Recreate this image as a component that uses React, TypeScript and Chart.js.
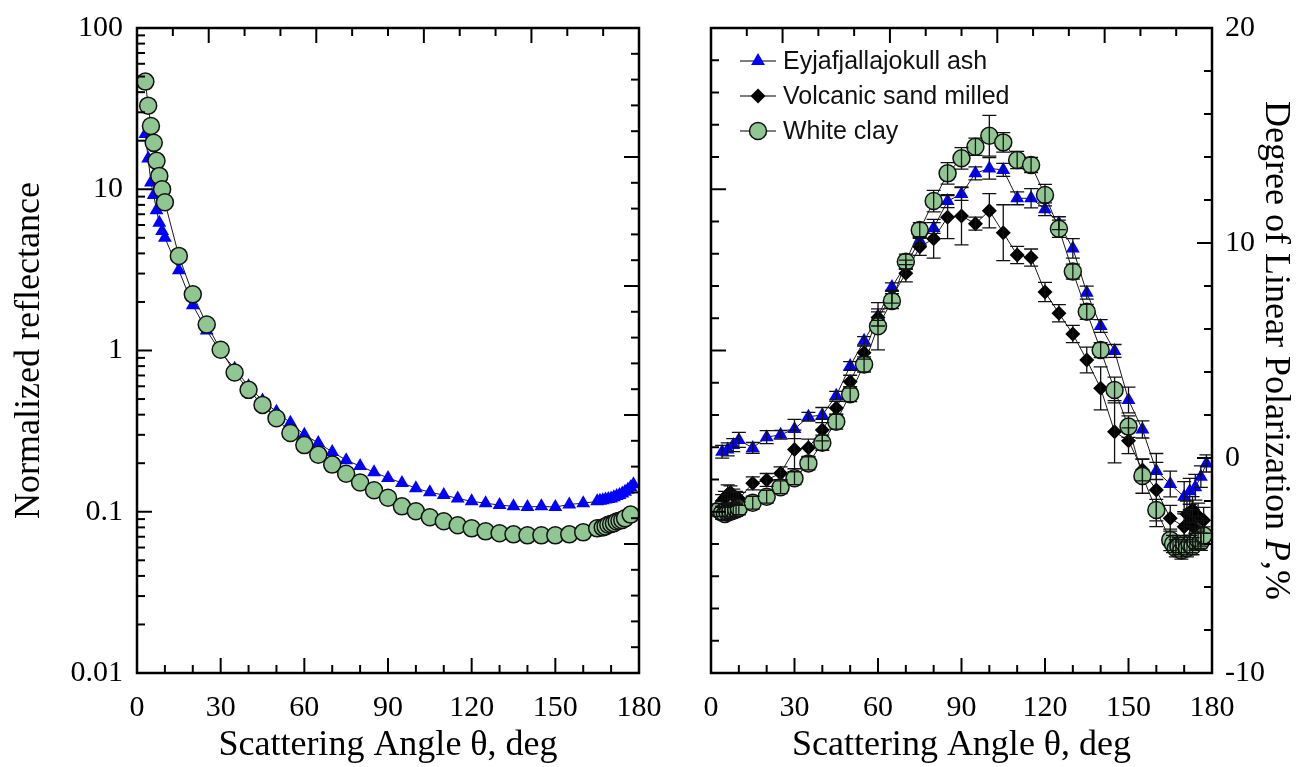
import React, { useEffect, useRef } from "react";
import { Chart, registerables } from "chart.js";

Chart.register(...registerables);

const SERIF = '"Liberation Serif", "Times New Roman", serif';
const SANS = '"Liberation Sans", Arial, sans-serif';

// ---------- text ----------
const SERIES_NAMES = ["Eyjafjallajokull ash", "Volcanic sand milled", "White clay"];
const X_TITLE = "Scattering Angle \u03b8, deg";
const LEFT_Y_TITLE = "Normalized reflectance";
const RIGHT_Y_TITLE_PARTS = ["Degree of Linear Polarization ", "P", ",%"];

// ---------- left panel: normalized reflectance ----------
const ASH_REFL_ANGLES = [3, 4, 5, 6, 7, 8, 9, 10, 15, 20, 25, 30, 35, 40, 45, 50, 55, 60, 65, 70, 75, 80, 85, 90, 95, 100, 105, 110, 115, 120, 125, 130, 135, 140, 145, 150, 155, 160, 165, 166, 167, 168, 169, 170, 171, 172, 173, 174, 175, 176, 177, 178];
const ASH_REFL = [22, 15.5, 11, 9.2, 7.4, 6.2, 5.5, 5.0, 3.15, 1.91, 1.33, 0.98, 0.77, 0.6, 0.49, 0.417, 0.356, 0.3, 0.267, 0.235, 0.209, 0.192, 0.176, 0.162, 0.151, 0.14, 0.132, 0.127, 0.121, 0.116, 0.113, 0.11, 0.108, 0.107, 0.108, 0.107, 0.111, 0.113, 0.116, 0.117, 0.118, 0.119, 0.12, 0.121, 0.123, 0.125, 0.127, 0.13, 0.133, 0.137, 0.142, 0.148];

const CLAY_REFL_ANGLES = [3, 4, 5, 6, 7, 8, 9, 10, 15, 20, 25, 30, 35, 40, 45, 50, 55, 60, 65, 70, 75, 80, 85, 90, 95, 100, 105, 110, 115, 120, 125, 130, 135, 140, 145, 150, 155, 160, 165, 167, 168, 169, 170, 171, 172, 173, 174, 175, 177];
const CLAY_REFL = [46.5, 33, 24.7, 19.4, 15.0, 12.1, 10.0, 8.3, 3.86, 2.23, 1.45, 1.01, 0.73, 0.57, 0.46, 0.38, 0.308, 0.259, 0.226, 0.196, 0.172, 0.152, 0.136, 0.122, 0.108, 0.1007, 0.0924, 0.0873, 0.0824, 0.0789, 0.0756, 0.0735, 0.0724, 0.0714, 0.0714, 0.0714, 0.0724, 0.0745, 0.0789, 0.08, 0.081, 0.083, 0.084, 0.085, 0.087, 0.088, 0.089, 0.091, 0.096];

// ---------- right panel: degree of linear polarization ----------
const ASH_POL_ANGLES = [4, 6, 8, 10, 15, 20, 25, 30, 35, 40, 45, 50, 55, 60, 65, 70, 75, 80, 85, 90, 95, 100, 105, 110, 115, 120, 125, 130, 135, 140, 145, 150, 155, 160, 165, 170, 172, 174, 176, 178];
const ASH_POL = [0.29, 0.4, 0.6, 0.84, 0.47, 0.97, 1.08, 1.35, 1.92, 2.0, 2.9, 4.28, 5.45, 6.6, 7.95, 9.0, 10.1, 10.7, 11.95, 12.28, 13.24, 13.47, 13.4, 12.08, 12.08, 11.57, 10.92, 9.75, 7.69, 6.14, 4.98, 2.7, 1.33, -0.6, -1.21, -1.8, -1.55, -1.36, -0.87, -0.25];
const ASH_POL_ERR = [0.3, 0.3, 0.3, 0.35, 0.25, 0.3, 0.2, 0.45, 0.2, 0.35, 0.2, 0.2, 0.2, 0.2, 0.2, 0.2, 0.2, 0.25, 0.3, 0.3, 0.3, 0.5, 0.3, 0.3, 0.45, 0.3, 0.3, 0.45, 0.3, 0.3, 0.3, 0.6, 0.4, 0.4, 0.6, 0.7, 0.6, 0.6, 0.5, 0.4];

const SAND_POL_ANGLES = [4, 5, 6, 7, 8, 9, 10, 15, 20, 25, 30, 35, 40, 45, 50, 55, 60, 65, 70, 75, 80, 85, 90, 95, 100, 105, 110, 115, 120, 125, 130, 135, 140, 145, 150, 155, 160, 165, 170, 171, 172, 173, 174, 175, 176, 177];
const SAND_POL = [-2.0, -1.85, -1.7, -1.6, -1.75, -1.85, -1.9, -1.18, -1.02, -0.71, 0.4, 0.48, 1.3, 2.33, 3.55, 4.9, 6.54, 7.5, 8.59, 9.82, 10.2, 11.2, 11.26, 10.9, 11.5, 10.48, 9.44, 9.32, 7.72, 6.73, 5.77, 4.56, 3.24, 1.22, 0.8, -0.56, -1.49, -2.8, -3.2, -2.6, -3.0, -2.4, -3.3, -2.7, -3.5, -2.9];
const SAND_POL_ERR = [0.3, 0.3, 0.45, 0.3, 0.3, 0.3, 0.3, 0.3, 0.3, 0.3, 0.9, 0.4, 0.5, 0.3, 0.3, 0.3, 0.4, 0.3, 0.4, 0.4, 0.9, 1.0, 1.35, 0.3, 0.8, 1.3, 0.4, 0.4, 0.45, 0.4, 0.4, 0.6, 1.0, 1.45, 0.6, 0.5, 1.7, 0.6, 0.6, 0.6, 0.6, 0.6, 0.6, 0.6, 0.6, 0.6];

const CLAY_POL_ANGLES = [3, 4, 5, 6, 7, 8, 9, 10, 15, 20, 25, 30, 35, 40, 45, 50, 55, 60, 65, 70, 75, 80, 85, 90, 95, 100, 105, 110, 115, 120, 125, 130, 135, 140, 145, 150, 155, 160, 165, 166, 167, 168, 169, 170, 171, 172, 173, 174, 175, 176, 177];
const CLAY_POL = [-2.42, -2.55, -2.6, -2.55, -2.5, -2.45, -2.4, -2.34, -2.08, -1.8, -1.36, -0.94, -0.25, 0.71, 1.69, 2.97, 4.35, 6.13, 7.3, 9.13, 10.6, 11.95, 13.24, 13.94, 14.48, 14.99, 14.68, 13.86, 13.63, 12.23, 10.66, 8.67, 6.8, 5.02, 3.16, 1.46, -0.84, -2.42, -3.81, -4.0, -4.2, -4.1, -4.3, -4.0, -4.2, -4.0, -4.1, -3.9, -3.8, -3.9, -3.6];
const CLAY_POL_ERR = [0.3, 0.3, 0.3, 0.3, 0.3, 0.3, 0.3, 0.3, 0.3, 0.3, 0.3, 0.3, 0.3, 0.35, 0.35, 0.35, 0.35, 1.1, 0.35, 0.35, 0.35, 0.5, 0.5, 0.5, 0.4, 0.95, 0.45, 0.4, 0.35, 0.5, 0.4, 0.35, 0.35, 0.35, 0.6, 0.5, 0.8, 0.5, 0.5, 0.4, 0.4, 0.4, 0.4, 0.4, 0.4, 0.4, 0.4, 0.4, 0.4, 0.4, 0.4];

// ---------- axis ticks ----------
const ANGLE_LABELS = [0, 30, 60, 90, 120, 150, 180];
const ANGLE_MINOR = [0, 10, 20, 30, 40, 50, 60, 70, 80, 90, 100, 110, 120, 130, 140, 150, 160, 170, 180];
const REFL_DECADES = [0.01, 0.1, 1, 10, 100];
const POL_LABELS = [-10, 0, 10, 20];
const POL_MINOR = [-10, -8, -6, -4, -2, 0, 2, 4, 6, 8, 10, 12, 14, 16, 18, 20];
const TOP_MINOR = [0, 1, 2, 3, 4, 5, 6, 7, 8, 9, 10, 11, 12, 13, 14];
const TOP_MAJOR = [2, 5, 8, 11, 14];
const RIGHT_AUX_MINOR = [0, 1, 2, 3, 4, 5, 6, 7, 8, 9, 10, 11, 12, 13, 14, 15, 16, 17, 18, 19, 20, 21, 22, 23, 24, 25];
const RIGHT_AUX_MAJOR = [5, 10, 15, 20];
const LEFT_AUX_MINOR = [0, 1, 2, 3, 4, 5, 6, 7, 8, 9, 10, 11, 12, 13, 14, 15, 16, 17, 18, 19, 20];
const LEFT_AUX_MAJOR = [5, 10, 15];
const LOG_MINOR = REFL_DECADES.slice(0, 4).flatMap((d) => [1, 2, 3, 4, 5, 6, 7, 8, 9].map((m) => d * m)).concat([100]);

// ---------- styles ----------
const ASH_COLOR = "#0000ff";
const SAND_COLOR = "#000000";
const CLAY_FILL = "#8fc692";
const LINE_COLOR = "#1a1a1a";

const pairs = (xs: number[], ys: number[]) => xs.map((x, i) => ({ x, y: ys[i] }));

function clayDs(xs: number[], ys: number[], err?: number[]) {
  return {
    label: SERIES_NAMES[2], data: pairs(xs, ys), errors: err, showLine: true,
    borderColor: LINE_COLOR, borderWidth: 1, pointStyle: "circle", pointRadius: 8.5,
    pointBackgroundColor: CLAY_FILL, pointBorderColor: "#111", pointBorderWidth: 1.5,
  };
}
function sandDs(xs: number[], ys: number[], err?: number[]) {
  return {
    label: SERIES_NAMES[1], data: pairs(xs, ys), errors: err, showLine: true,
    borderColor: LINE_COLOR, borderWidth: 1, pointStyle: "rectRot", pointRadius: 7.5,
    pointBackgroundColor: SAND_COLOR, pointBorderColor: SAND_COLOR, pointBorderWidth: 0,
  };
}
function ashDs(xs: number[], ys: number[], err?: number[]) {
  return {
    label: SERIES_NAMES[0], data: pairs(xs, ys), errors: err, showLine: true,
    borderColor: LINE_COLOR, borderWidth: 1, pointStyle: "triangle", pointRadius: 8,
    pointBackgroundColor: ASH_COLOR, pointBorderColor: ASH_COLOR, pointBorderWidth: 0,
  };
}

type TickSpec = { scale: string; side: "left" | "right" | "top" | "bottom"; values: number[]; major: number[] };

const LONG_TICK = 15;
const SHORT_TICK = 8;

function framePlugin(specs: TickSpec[]) {
  return {
    id: "frameTicks",
    afterDraw(chart: any) {
      const { ctx, chartArea: a } = chart;
      ctx.save();
      ctx.strokeStyle = "#000";
      ctx.lineWidth = 2;
      for (const s of specs) {
        const sc = chart.scales[s.scale];
        for (const v of s.values) {
          const len = s.major.some((m) => Math.abs(m - v) < 1e-9) ? LONG_TICK : SHORT_TICK;
          const p = sc.getPixelForValue(v);
          ctx.beginPath();
          if (s.side === "left" || s.side === "right") {
            if (p < a.top + 1 || p > a.bottom - 1) continue;
            const x0 = s.side === "left" ? a.left : a.right;
            ctx.moveTo(x0, p);
            ctx.lineTo(s.side === "left" ? x0 + len : x0 - len, p);
          } else {
            if (p < a.left + 1 || p > a.right - 1) continue;
            const y0 = s.side === "top" ? a.top : a.bottom;
            ctx.moveTo(p, y0);
            ctx.lineTo(p, s.side === "top" ? y0 + len : y0 - len);
          }
          ctx.stroke();
        }
      }
      ctx.lineWidth = 2.5;
      ctx.strokeRect(a.left, a.top, a.right - a.left, a.bottom - a.top);
      ctx.restore();
    },
  };
}

const CAP = 7;
const errorBarPlugin = {
  id: "errorBars",
  afterDatasetsDraw(chart: any) {
    const { ctx, chartArea: a } = chart;
    ctx.save();
    ctx.beginPath();
    ctx.rect(a.left, a.top, a.right - a.left, a.bottom - a.top);
    ctx.clip();
    ctx.strokeStyle = "#111";
    ctx.lineWidth = 1.3;
    chart.data.datasets.forEach((ds: any, i: number) => {
      if (!ds.errors) return;
      const meta = chart.getDatasetMeta(i);
      const ys = chart.scales[meta.yAxisID];
      meta.data.forEach((pt: any, j: number) => {
        const v = ds.data[j].y;
        const e = ds.errors[j];
        const yt = ys.getPixelForValue(v + e);
        const yb = ys.getPixelForValue(v - e);
        const x = pt.x;
        ctx.beginPath();
        ctx.moveTo(x, yt); ctx.lineTo(x, yb);
        ctx.moveTo(x - CAP, yt); ctx.lineTo(x + CAP, yt);
        ctx.moveTo(x - CAP, yb); ctx.lineTo(x + CAP, yb);
        ctx.stroke();
      });
    });
    ctx.restore();
  },
};

function drawMarker(ctx: CanvasRenderingContext2D, kind: string, x: number, y: number) {
  ctx.beginPath();
  if (kind === "triangle") {
    const r = 8;
    ctx.moveTo(x, y - r);
    ctx.lineTo(x + r * Math.sin(Math.PI / 3), y + r * 0.5);
    ctx.lineTo(x - r * Math.sin(Math.PI / 3), y + r * 0.5);
    ctx.closePath();
    ctx.fillStyle = ASH_COLOR;
    ctx.fill();
  } else if (kind === "diamond") {
    const r = 7.5;
    ctx.moveTo(x, y - r); ctx.lineTo(x + r, y); ctx.lineTo(x, y + r); ctx.lineTo(x - r, y);
    ctx.closePath();
    ctx.fillStyle = SAND_COLOR;
    ctx.fill();
  } else {
    ctx.arc(x, y, 8.5, 0, Math.PI * 2);
    ctx.fillStyle = CLAY_FILL;
    ctx.fill();
    ctx.lineWidth = 1.5;
    ctx.strokeStyle = "#111";
    ctx.stroke();
  }
}

const legendPlugin = {
  id: "innerLegend",
  afterDraw(chart: any) {
    const { ctx, chartArea: a } = chart;
    const kinds = ["triangle", "diamond", "circle"];
    ctx.save();
    ctx.font = `25px ${SANS}`;
    ctx.textBaseline = "middle";
    ctx.textAlign = "left";
    SERIES_NAMES.forEach((name, i) => {
      const y = a.top + 33 + i * 35;
      const x0 = a.left + 29;
      ctx.strokeStyle = "#000";
      ctx.lineWidth = 1.2;
      ctx.beginPath();
      ctx.moveTo(x0, y); ctx.lineTo(x0 + 36, y);
      ctx.stroke();
      drawMarker(ctx, kinds[i], x0 + 18, y);
      ctx.fillStyle = "#111";
      ctx.fillText(name, x0 + 43, y + 1);
    });
    ctx.restore();
  },
};

const rightTitlePlugin = {
  id: "rightTitle",
  afterDraw(chart: any) {
    const { ctx, chartArea: a } = chart;
    const normal = `36px ${SERIF}`;
    const italic = `italic 36px ${SERIF}`;
    const fonts = [normal, italic, normal];
    ctx.save();
    ctx.translate(chart.width - 25, (a.top + a.bottom) / 2);
    ctx.rotate(Math.PI / 2);
    ctx.textBaseline = "middle";
    ctx.textAlign = "left";
    ctx.fillStyle = "#000";
    const widths = RIGHT_Y_TITLE_PARTS.map((t, i) => { ctx.font = fonts[i]; return ctx.measureText(t).width; });
    let x = -widths.reduce((s, w) => s + w, 0) / 2;
    RIGHT_Y_TITLE_PARTS.forEach((t, i) => { ctx.font = fonts[i]; ctx.fillText(t, x, 0); x += widths[i]; });
    ctx.restore();
  },
};

const tickFont = { family: SERIF, size: 30 };
const titleFont = { family: SERIF, size: 36, lineHeight: 1 };

function angleAxis() {
  return {
    type: "linear", position: "bottom", min: 0, max: 180,
    afterBuildTicks: (s: any) => { s.ticks = ANGLE_LABELS.map((value) => ({ value })); },
    afterFit: (s: any) => { s.height = 94; s.paddingLeft = 0; s.paddingRight = 0; },
    ticks: { font: tickFont, color: "#000", padding: 17, maxRotation: 0, autoSkip: false },
    grid: { display: false, drawTicks: false },
    border: { display: false },
    title: { display: true, text: X_TITLE, font: titleFont, color: "#000", padding: { top: 0, bottom: 3 } },
  };
}

function leftConfig(): any {
  return {
    type: "scatter",
    data: {
      datasets: [clayDs(CLAY_REFL_ANGLES, CLAY_REFL), ashDs(ASH_REFL_ANGLES, ASH_REFL)],
    },
    options: {
      animation: false, responsive: false, devicePixelRatio: 1, events: [],
      layout: { padding: { left: 0, top: 28, right: 36, bottom: 0 } },
      plugins: { legend: { display: false }, tooltip: { enabled: false } },
      scales: {
        x: angleAxis(),
        y: {
          type: "logarithmic", position: "left", min: 0.01, max: 100,
          afterBuildTicks: (s: any) => { s.ticks = REFL_DECADES.map((value) => ({ value })); },
          afterFit: (s: any) => { s.width = 137; s.paddingTop = 0; s.paddingBottom = 0; },
          ticks: { font: tickFont, color: "#000", padding: 14, callback: (v: any) => String(v) },
          grid: { display: false, drawTicks: false },
          border: { display: false },
          title: { display: true, text: LEFT_Y_TITLE, font: titleFont, color: "#000", padding: { top: 12, bottom: 0 } },
        },
        xTop: { type: "linear", position: "top", min: 0, max: 14, display: false },
        yAux: { type: "linear", position: "right", min: 0, max: 25, display: false },
      },
    },
    plugins: [
      framePlugin([
        { scale: "x", side: "bottom", values: ANGLE_MINOR, major: ANGLE_LABELS },
        { scale: "xTop", side: "top", values: TOP_MINOR, major: TOP_MAJOR },
        { scale: "y", side: "left", values: LOG_MINOR, major: REFL_DECADES },
        { scale: "yAux", side: "right", values: RIGHT_AUX_MINOR, major: RIGHT_AUX_MAJOR },
      ]),
    ],
  };
}

function rightConfig(): any {
  return {
    type: "scatter",
    data: {
      datasets: [
        clayDs(CLAY_POL_ANGLES, CLAY_POL, CLAY_POL_ERR),
        sandDs(SAND_POL_ANGLES, SAND_POL, SAND_POL_ERR),
        ashDs(ASH_POL_ANGLES, ASH_POL, ASH_POL_ERR),
      ],
    },
    options: {
      animation: false, responsive: false, devicePixelRatio: 1, events: [],
      layout: { padding: { left: 36, top: 28, right: 0, bottom: 0 } },
      plugins: { legend: { display: false }, tooltip: { enabled: false } },
      scales: {
        x: angleAxis(),
        y: {
          type: "linear", position: "right", min: -10, max: 20,
          afterBuildTicks: (s: any) => { s.ticks = POL_LABELS.map((value) => ({ value })); },
          afterFit: (s: any) => { s.width = 88; s.paddingTop = 0; s.paddingBottom = 0; },
          ticks: { font: tickFont, color: "#000", padding: 13 },
          grid: { display: false, drawTicks: false },
          border: { display: false },
          title: { display: false },
        },
        xTop: { type: "linear", position: "top", min: 0, max: 14, display: false },
        yAux: { type: "linear", position: "left", min: 0, max: 20, display: false },
      },
    },
    plugins: [
      errorBarPlugin,
      framePlugin([
        { scale: "x", side: "bottom", values: ANGLE_MINOR, major: ANGLE_LABELS },
        { scale: "xTop", side: "top", values: TOP_MINOR, major: TOP_MAJOR },
        { scale: "yAux", side: "left", values: LEFT_AUX_MINOR, major: LEFT_AUX_MAJOR },
        { scale: "y", side: "right", values: POL_MINOR, major: POL_LABELS },
      ]),
      legendPlugin,
      rightTitlePlugin,
    ],
  };
}

export default function App() {
  const leftRef = useRef<HTMLCanvasElement>(null);
  const rightRef = useRef<HTMLCanvasElement>(null);
  useEffect(() => {
    const c1 = new Chart(leftRef.current as HTMLCanvasElement, leftConfig());
    const c2 = new Chart(rightRef.current as HTMLCanvasElement, rightConfig());
    return () => { c1.destroy(); c2.destroy(); };
  }, []);
  return (
    <div style={{ position: "absolute", left: 0, top: 0, width: 1300, height: 767, background: "#fff" }}>
      <canvas ref={leftRef} width={675} height={767} style={{ position: "absolute", left: 0, top: 0 }} />
      <canvas ref={rightRef} width={625} height={767} style={{ position: "absolute", left: 675, top: 0 }} />
    </div>
  );
}
